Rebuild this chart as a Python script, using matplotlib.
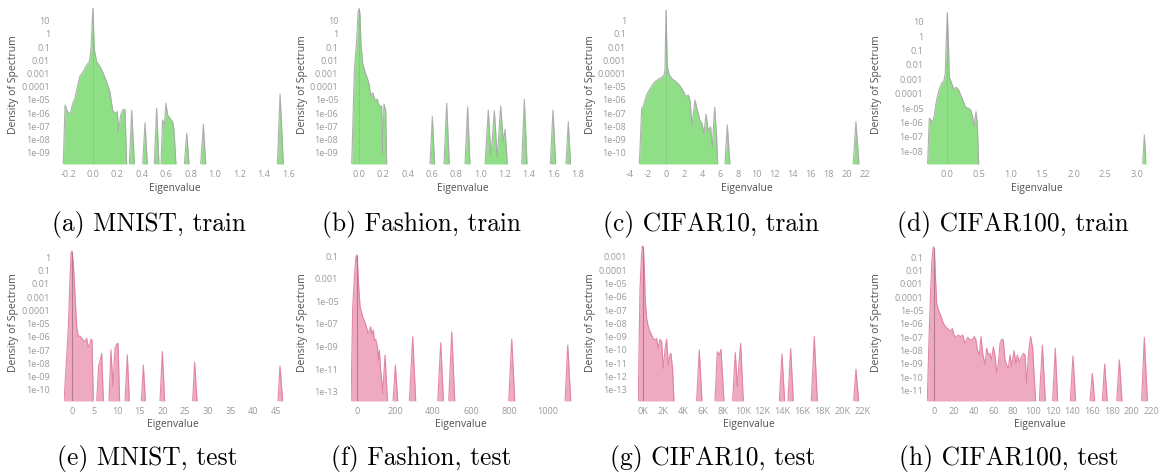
import numpy as np
import matplotlib
matplotlib.use("Agg")
import matplotlib.pyplot as plt
from matplotlib.ticker import FixedLocator, FuncFormatter

# ---- data: eigenvalue x, log10 of spectral density (floor = lowest value shown) ----
mnist_train_floor = -9.86
F = mnist_train_floor
mnist_train_x = [-0.241, -0.227, -0.206, -0.186, -0.165, -0.146, -0.126, -0.105, -0.078, -0.050,
                 -0.028, -0.015, 0.0, 0.013, 0.032, 0.059, 0.086, 0.113, 0.140, 0.162,
                 0.182, 0.201, 0.211, 0.228, 0.244, 0.263, 0.277,
                 0.299, 0.318, 0.340, 0.408, 0.427, 0.446, 0.503, 0.522, 0.541,
                 0.558, 0.570, 0.585, 0.598, 0.612, 0.631, 0.653, 0.664, 0.680,
                 0.749, 0.768, 0.787, 0.882, 0.904, 0.923, 1.509, 1.531, 1.558]
mnist_train_logd = [F, -5.39, -5.89, -6.1, -5.31, -4.88, -4.0, -3.19, -2.86, -2.36,
                    -2.1, -1.22, 1.93, -1.22, -2.1, -2.48, -2.99, -3.62, -4.38, -5.77,
                    -6.02, -5.89, -7.41, -6.15, -5.77, -5.72, F,
                    F, -5.77, F, F, -6.73, F, F, -5.64, F,
                    F, -6.53, -6.9, -5.26, -6.15, -6.4, -6.65, -7.28, F,
                    F, -7.54, F, F, -6.83, F, F, -4.56, F]

fashion_train_floor = -9.86
F = fashion_train_floor
fashion_train_x = [-0.060, -0.038, -0.019, -0.008, 0.0, 0.008, 0.016, 0.030, 0.049, 0.069,
                   0.085, 0.096, 0.113, 0.132, 0.151, 0.159, 0.173, 0.187, 0.195, 0.206,
                   0.220, 0.228,
                   0.585, 0.604, 0.623, 0.700, 0.722, 0.744, 0.873, 0.895, 0.914,
                   1.038, 1.065, 1.087, 1.115, 1.139, 1.167, 1.189, 1.203, 1.222,
                   1.340, 1.362, 1.384, 1.576, 1.598, 1.620, 1.705, 1.724, 1.743]
fashion_train_logd = [F, -2.74, -0.46, 1.56, 1.93, 1.56, -0.72, -2.23, -2.86, -3.37,
                      -3.87, -4.76, -4.45, -5.0, -4.95, -5.26, -5.5, -5.46, -9.05, -5.31,
                      -5.8, F,
                      F, -6.27, F, F, -5.26, F, F, -5.52, F,
                      F, -5.77, -9.3, -5.82, -9.4, -5.46, -8.2, -7.23, F,
                      F, -4.96, F, F, -5.77, F, F, -6.65, F]

cifar10_train_floor = -10.86
F = cifar10_train_floor
cifar10_train_x = [-2.95, -2.69, -2.51, -2.21, -1.96, -1.59, -1.22, -0.85, -0.48, -0.22,
                   -0.11, 0.0, 0.15, 0.37, 0.74, 1.11, 1.48, 1.85, 2.21, 2.47,
                   2.66, 2.88, 3.21, 3.47, 3.76, 3.99, 4.21, 4.43, 4.69, 4.94,
                   5.13, 5.39, 5.61, 5.72,
                   6.53, 6.79, 7.08, 20.74, 21.03, 21.37]
cifar10_train_logd = [F, -6.64, -6.46, -5.76, -5.38, -4.95, -4.62, -4.44, -4.29, -4.12,
                      -3.74, 0.81, -3.48, -4.12, -4.44, -4.62, -4.87, -5.25, -5.76, -5.63,
                      -6.01, -7.9, -6.01, -6.77, -7.53, -7.78, -8.54, -7.07, -8.41, -8.03,
                      -9.55, -6.57, -8.79, F,
                      F, -7.9, F, F, -7.65, F]

cifar100_train_floor = -8.88
F = cifar100_train_floor
cifar100_train_x = [-0.312, -0.285, -0.259, -0.232, -0.206, -0.169, -0.132, -0.090, -0.053, -0.032,
                    -0.016, 0.0, 0.016, 0.032, 0.069, 0.106, 0.137, 0.174, 0.211, 0.254,
                    0.291, 0.333, 0.370, 0.401, 0.423, 0.454, 0.475, 0.497,
                    3.096, 3.122, 3.149]
cifar100_train_logd = [F, -5.70, -5.81, -6.04, -5.47, -4.43, -3.73, -3.27, -3.11, -2.58,
                       -0.27, 1.62, -0.27, -2.81, -3.27, -3.73, -3.55, -3.69, -4.08, -4.54,
                       -4.94, -5.0, -5.12, -5.58, -6.27, -5.24, -6.04, F,
                       F, -6.85, F]

mnist_test_floor = -10.83
F = mnist_test_floor
mnist_test_x = [-1.69, -1.10, -0.73, -0.37, -0.15, 0.07, 0.37, 0.73, 1.10, 1.47,
                1.84, 2.35, 2.94, 3.30, 3.67, 3.89, 4.26, 4.48, 4.77,
                5.51, 5.95, 6.24, 6.61, 6.98,
                8.22, 8.66, 9.10, 9.54, 9.91, 10.21, 10.57,
                11.75, 12.26, 12.70, 15.35, 15.79, 16.23, 19.46, 19.97, 20.48,
                26.65, 27.09, 27.61, 45.45, 45.89, 46.48]
mnist_test_logd = [F, -7.49, -5.23, -1.71, 0.30, 0.48, -0.45, -2.84, -5.23, -5.98,
                   -5.93, -6.18, -6.36, -6.11, -6.78, -6.68, -6.18, -6.23, F,
                   F, -8.12, -7.86, -7.24, F,
                   F, -6.98, -9.75, -6.86, -6.55, -6.48, F,
                   F, -7.36, F, F, -8.12, F, F, -7.11, F,
                   F, -7.91, F, F, -8.19, F]

fashion_test_floor = -13.82
F = fashion_test_floor
fashion_test_x = [-29.7, -20.9, -12.2, -5.2, 0.0, 5.2, 10.5, 17.5, 24.4, 31.4,
                  38.4, 45.4, 52.4, 59.3, 66.3, 73.3, 78.5, 87.3, 92.5, 99.5,
                  108.2, 113.4, 118.7, 125.7, 132.6, 136.1, 148.3, 160.6,
                  190.2, 202.4, 214.7, 275.7, 293.2, 308.9, 424.1, 439.8, 453.8,
                  481.7, 497.4, 513.1, 795.8, 811.5, 827.2, 1090.7, 1104.7, 1120.4]
fashion_test_logd = [F, -5.48, -2.83, -1.21, -0.91, -1.94, -3.71, -5.48, -5.93, -6.37,
                     -6.66, -6.96, -7.40, -7.84, -7.61, -7.25, -7.90, -7.55, -8.43, -8.37,
                     -9.02, -10.20, -9.32, -11.24, -12.27, -13.2, -9.76, F,
                     F, -10.65, F, F, -8.14, F, F, -8.67, F,
                     F, -7.70, F, F, -8.37, F, F, -8.88, F]

cifar10_test_floor = -13.83
F = cifar10_test_floor
cifar10_test_x = [-502, -335, -201, -100, 0, 100, 201, 335, 503, 670,
                  838, 1005, 1173, 1340, 1508, 1675, 1843, 2010, 2178, 2345,
                  2513, 2680, 2781, 2948, 3082,
                  5360, 5628, 5896,
                  7203, 7437, 7638, 7806, 8107,
                  8978, 9246, 9447, 9782, 10050,
                  13668, 13936, 14204, 14539, 14807, 15075,
                  16884, 17186, 17487, 21139, 21374, 21642]
cifar10_test_logd = [F, -5.5, -3.25, -2.2, -2.25, -3.75, -6.25, -7.63, -8.25, -8.63,
                     -8.88, -9.13, -9.25, -9.13, -9.88, -9.2, -9.38, -11.38, -10.0, -9.2,
                     -11.13, -10.38, -10.25, -11.5, F,
                     F, -10.0, F,
                     F, -10.13, -10.38, -9.95, F,
                     F, -10.2, -12.75, -9.5, F,
                     F, -10.3, F, F, -9.88, F,
                     F, -9.0, F, F, -11.45, F]

cifar100_test_floor = -11.78
F = cifar100_test_floor
cifar100_test_x = [-7.1, -5.4, -3.7, -2.4, -1.0, 0.0, 1.0, 2.4, 4.1, 6.4,
                   9.1, 11.8, 14.5, 16.6, 18.2, 19.9, 22.0, 24.3, 26.7, 28.7,
                   31.1, 33.8, 36.1, 38.9, 40.5, 42.2, 43.6, 45.6, 47.3, 49.0,
                   51.4, 53.0, 54.7, 56.4, 58.1, 59.8, 61.5, 63.2, 64.9, 66.6,
                   68.2, 69.9, 71.6, 73.3, 75.0, 76.7, 78.4, 80.7, 82.8, 84.1,
                   86.1, 88.5, 90.2, 91.9, 93.6, 95.6, 97.6, 99.7, 101.0, 102.7,
                   106.4, 109.5, 112.5, 119.9, 122.6, 125.0, 137.8, 140.5, 143.2,
                   157.8, 160.1, 162.5, 170.3, 172.6, 175.3, 184.8, 187.5, 190.2,
                   210.1, 212.8, 215.9]
cifar100_test_logd = [F, -7.2, -3.45, -1.2, -0.2, -0.33, -2.2, -4.45, -4.95, -5.33,
                      -5.95, -6.25, -6.4, -6.58, -6.33, -6.83, -7.0, -6.83, -6.95, -6.83,
                      -7.45, -7.0, -7.2, -7.15, -6.95, -7.2, -7.95, -8.33, -6.95, -8.2,
                      -9.08, -7.83, -8.33, -8.2, -8.7, -7.7, -8.33, -9.7, -8.95, -7.45,
                      -7.15, -7.2, -8.7, -9.08, -9.33, -8.33, -9.2, -8.0, -9.0, -8.33,
                      -8.83, -8.45, -8.2, -8.33, -10.45, -8.08, -6.95, -7.83, -9.7, F,
                      F, -7.58, F, F, -7.83, F, F, -8.4, F,
                      F, -9.7, F, F, -9.0, F, F, -8.7, F,
                      F, -7.0, F]

captions = ["(a) MNIST, train", "(b) Fashion, train", "(c) CIFAR10, train", "(d) CIFAR100, train",
            "(e) MNIST, test", "(f) Fashion, test", "(g) CIFAR10, test", "(h) CIFAR100, test"]

# ---- layout (pixels) ----
W, H = 1159, 474
GREEN, GREEN_EDGE = "#8fdf86", "#a8a8a8"
PINK, PINK_EDGE = "#eeaac1", "#e07c9f"
TICK_C, LABEL_C = "#9a9a9a", "#505050"
SANS = "Open Sans"

fmt1 = FuncFormatter(lambda v, p: f"{v:.1f}")
fmt0 = FuncFormatter(lambda v, p: f"{v:.0f}")
fmtK = FuncFormatter(lambda v, p: f"{v/1000:.0f}K")

# (x, logd, left_px, width_px, row, xlim, ytop, xticks, xfmt, ytick exps, ypad_px, ylabel_x_px, caption_x)
panels = [
    (mnist_train_x, mnist_train_logd, 62.2, 226.3, 0, (-0.25, 1.6), 2.114,
     np.arange(-0.2, 1.61, 0.2), fmt1, range(-9, 2), 12.2, 14, 149),
    (fashion_train_x, fashion_train_logd, 350.5, 227.0, 0, (-0.07, 1.8), 2.114,
     np.arange(0.0, 1.81, 0.2), fmt1, range(-9, 2), 12.2, 303, 421),
    (cifar10_train_x, cifar10_train_logd, 629.4, 235.7, 0, (-4.05, 22.05), 1.114,
     np.arange(-4, 23, 2), fmt0, range(-10, 1), 3.4, 590, 711),
    (cifar100_train_x, cifar100_train_logd, 927.1, 219.0, 0, (-0.32, 3.15), 2.087,
     np.arange(0.0, 3.01, 0.5), fmt1, range(-8, 2), 3.8, 877, 1013),
    (mnist_test_x, mnist_test_logd, 63.5, 219.7, 1, (-1.8, 46.6), 0.927,
     np.arange(0, 46, 5), fmt0, range(-10, 1), 13.5, 14, 147),
    (fashion_test_x, fashion_test_logd, 350.6, 221.4, 1, (-32, 1127), -0.027,
     np.arange(0, 1001, 200), fmt0, range(-13, 0, 2), 12.3, 303, 421),
    (cifar10_test_x, cifar10_test_logd, 638.1, 224.6, 1, (-520, 22050), -2.12,
     np.arange(0, 22001, 2000), fmtK, range(-13, -2), 11.4, 590, 713),
    (cifar100_test_x, cifar100_test_logd, 926.9, 225.0, 1, (-7.5, 220.5), -0.077,
     np.arange(0, 221, 20), fmt0, range(-11, 0), 3.6, 877, 1009),
]
rows = [(6, 164, 188, 225), (245, 401, 425, 458)]  # top, bottom, xlabel y, caption y
xlabel_x = [175, 463, 747, 1037, 173, 461, 749, 1040]


def outline(x, logd):
    lo = min(logd)
    xs, ys = [], []
    for i in range(len(x)):
        xs.append(x[i])
        ys.append(10.0 ** logd[i])
        if i + 1 < len(x) and logd[i] == lo and logd[i + 1] == lo:
            xs.append(np.nan)
            ys.append(np.nan)
    return xs, ys


fig = plt.figure(figsize=(W / 100, H / 100), dpi=100)

for k, (x, logd, left, width, row, xlim, ytop, xt, xf, yexp, ypad, ylx, capx) in enumerate(panels):
    top, bottom, xly, capy = rows[row]
    ax = fig.add_axes([left / W, 1 - bottom / H, width / W, (bottom - top) / H])
    x = np.array(x, dtype=float)
    logd = np.array(logd, dtype=float)
    lo = logd.min()
    d = 10.0 ** logd
    fill, edge = (GREEN, GREEN_EDGE) if row == 0 else (PINK, PINK_EDGE)
    ax.fill_between(x, d, 10.0 ** lo, color=fill, lw=0)
    ox, oy = outline(x, logd)
    ax.plot(ox, oy, color=edge, lw=0.8, alpha=0.9)
    peak0 = 10.0 ** np.interp(0.0, x, logd)
    if row == 0:
        ax.vlines(0, 10.0 ** lo, peak0, colors="#8a9a8a", lw=0.6, linestyles=(0, (1, 1.5)))
    else:
        ax.vlines(0, 10.0 ** lo, peak0, colors="#b57a90", lw=0.8)

    ax.set_yscale("log")
    ax.set_xlim(*xlim)
    ax.set_ylim(10.0 ** lo, 10.0 ** ytop)
    ax.xaxis.set_major_locator(FixedLocator(xt))
    ax.xaxis.set_major_formatter(xf)
    ax.yaxis.set_major_locator(FixedLocator([10.0 ** e for e in yexp]))
    ax.yaxis.set_major_formatter(FuncFormatter(lambda v, p: f"{v:g}"))
    ax.yaxis.set_minor_locator(FixedLocator([]))
    ax.tick_params(axis="both", length=0, labelsize=6.6, labelcolor=TICK_C)
    ax.tick_params(axis="x", pad=4)
    ax.tick_params(axis="y", pad=ypad * 0.72)
    for lab in ax.get_xticklabels() + ax.get_yticklabels():
        lab.set_fontfamily(SANS)
    for s in ax.spines.values():
        s.set_visible(False)

    ax.set_xlabel("Eigenvalue", fontsize=7.4, color=LABEL_C, family=SANS, va="center")
    ax.xaxis.set_label_coords(xlabel_x[k] / W, 1 - xly / H, transform=fig.transFigure)
    ax.set_ylabel("Density of Spectrum", fontsize=7.5, color=LABEL_C, family=SANS, va="center")
    ax.yaxis.set_label_coords(ylx / W, 1 - (top + bottom) / 2 / H, transform=fig.transFigure)

    fig.text(capx / W, 1 - capy / H, captions[k], ha="center", va="center",
             fontsize=18.3, family="cmr10", color="black")

fig.savefig("out.png", dpi=100)
